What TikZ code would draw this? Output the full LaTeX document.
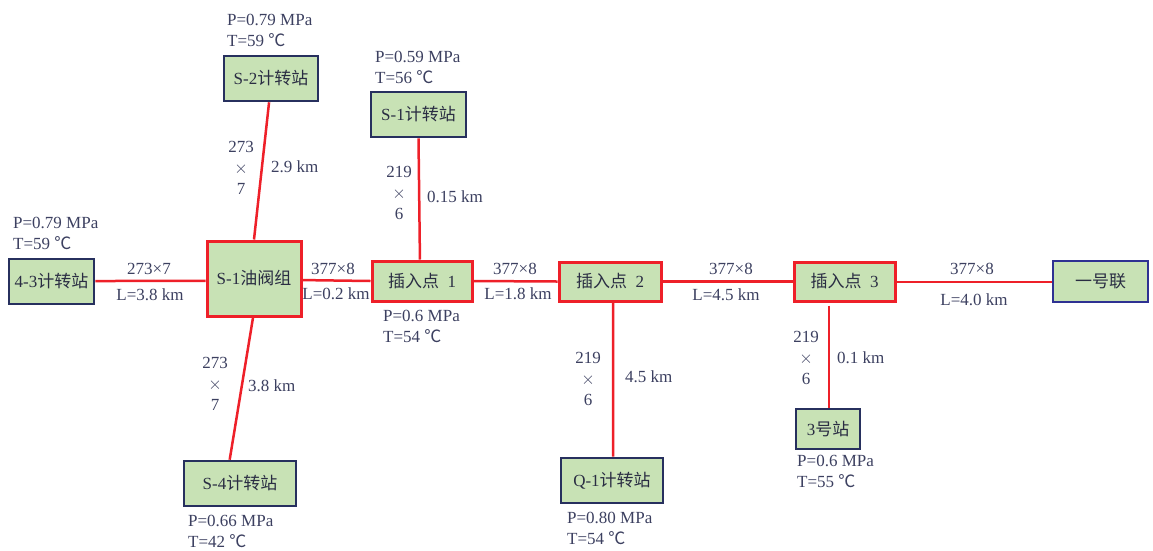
\documentclass[tikz,border=0pt]{standalone}
\usepackage{fontspec}
\setmainfont{Liberation Serif}
\newfontfamily\cjk{Noto Sans CJK SC}
\usetikzlibrary{calc}
\definecolor{boxfill}{HTML}{C8E2B5}
\definecolor{pipered}{HTML}{EE2029}
\definecolor{navy}{HTML}{27305E}
\definecolor{blueedge}{HTML}{2E3192}
\definecolor{txt}{HTML}{3C4060}
\newcommand{\degC}{{\cjk ℃}}
\tikzset{
  box/.style={draw,fill=boxfill,line width=2.6pt,inner sep=0pt,text=txt!70!black,font=\fontsize{17}{21}\selectfont},
  stn/.style={box,draw=navy},
  hub/.style={box,draw=pipered,line width=3pt},
  endbox/.style={box,draw=blueedge},
  pipe/.style={draw=pipered,line width=2.5pt},
  lab/.style={text=txt,font=\fontsize{17}{21}\selectfont,inner sep=0pt,align=left,anchor=west},
  mid/.style={text=txt,font=\fontsize{17}{21}\selectfont,inner sep=0pt,align=center,anchor=center}
}
% \bx{style}{name}{x0}{y0}{x1}{y1}{text}
\newcommand{\bx}[7]{\node[#1,minimum width=#5pt-#3pt,minimum height=#6pt-#4pt] (#2) at ({(#3+#5)/2},{(#4+#6)/2}) {#7};}
\begin{document}
\begin{tikzpicture}[x=1pt,y=-1pt]
\useasboundingbox (0,0) rectangle (1153,550);
\bx{stn}{sii}{224}{56}{318}{101}{S-2{\cjk 计转站}}
\bx{stn}{si}{371}{92}{466}{137}{S-1{\cjk 计转站}}
\bx{stn}{st}{9}{259}{94}{304}{4-3{\cjk 计转站}}
\bx{hub}{valve}{207}{241}{301}{316}{S-1{\cjk 油阀组}}
\bx{hub}{ia}{372}{261}{472}{301}{{\cjk 插入点}\enspace 1}
\bx{hub}{ib}{559}{262}{661}{301}{{\cjk 插入点}\enspace 2}
\bx{hub}{ic}{794}{262}{895}{301}{{\cjk 插入点}\enspace 3}
\bx{endbox}{yi}{1053}{261}{1148}{302}{{\cjk 一号联}}
\bx{stn}{san}{796}{409}{860}{449}{3{\cjk 号站}}
\bx{stn}{qi}{561}{458}{663}{503}{Q-1{\cjk 计转站}}
\bx{stn}{siv}{184}{461}{296}{506}{S-4{\cjk 计转站}}

\draw[pipe] ($(sii.south west)!0.48!(sii.south east)$) -- ($(valve.north west)!0.5!(valve.north east)$);
\draw[pipe] ($(si.south west)!0.5!(si.south east)$) -- ($(ia.north west)!0.48!(ia.north east)$);
\draw[pipe] ($(st.south east)!0.51!(st.north east)$) -- ($(valve.south west)!0.47!(valve.north west)$);
\draw[pipe] ($(valve.south east)!0.48!(valve.north east)$) -- (ia.west);
\draw[pipe] (ia.east) -- (ib.west);
\draw[pipe] (ib.east) -- (ic.west);
\draw[pipe,line width=2pt] (ic.east) -- (yi.west);
\draw[pipe] ($(valve.south west)!0.49!(valve.south east)$) -- ($(siv.north west)!0.41!(siv.north east)$);
\draw[pipe] ($(ib.south west)!0.53!(ib.south east)$) -- ($(qi.north west)!0.51!(qi.north east)$);
\coordinate (icb) at ($(ic.south west)!0.35!(ic.south east)+(0,3)$);
\draw[pipe,line width=2pt] (icb) -- (icb |- san.north);

\node[lab] (lsii) at (227,30) {P=0.79 MPa\\T=59 \degC};
\node[lab] (lsi) at (375,67) {P=0.59 MPa\\T=56 \degC};
\node[lab] (lst) at (13,233) {P=0.79 MPa\\T=59 \degC};
\node[lab] (lia) at (383,326) {P=0.6 MPa\\T=54 \degC};
\node[lab] (lsiv) at (188,531) {P=0.66 MPa\\T=42 \degC};
\node[lab] (lqi) at (567,528) {P=0.80 MPa\\T=54 \degC};
\node[lab] (lsan) at (797,471) {P=0.6 MPa\\T=55 \degC};

\node[mid] (a1) at (241,168) {273\\$\times$\\7};
\node[lab] (a2) at (271,167) {2.9 km};
\node[mid] (b1) at (399,193) {219\\$\times$\\6};
\node[lab] (b2) at (427,197) {0.15 km};
\node[mid] (c1) at (215,384) {273\\$\times$\\7};
\node[lab] (c2) at (248,386) {3.8 km};
\node[mid] (d1) at (588,379) {219\\$\times$\\6};
\node[lab] (d2) at (625,377) {4.5 km};
\node[mid] (e1) at (806,358) {219\\$\times$\\6};
\node[lab] (e2) at (837,358) {0.1 km};

\node[mid] (f1) at (149,269) {273×7};
\node[mid] (f2) at (150,295) {L=3.8 km};
\node[mid] (g1) at (333,269) {377×8};
\node[mid] (g2) at (336,294) {L=0.2 km};
\node[mid] (h1) at (515,269) {377×8};
\node[mid] (h2) at (518,294) {L=1.8 km};
\node[mid] (i1) at (731,269) {377×8};
\node[mid] (i2) at (726,295) {L=4.5 km};
\node[mid] (j1) at (972,269) {377×8};
\node[mid] (j2) at (974,300) {L=4.0 km};
\end{tikzpicture}
\end{document}
